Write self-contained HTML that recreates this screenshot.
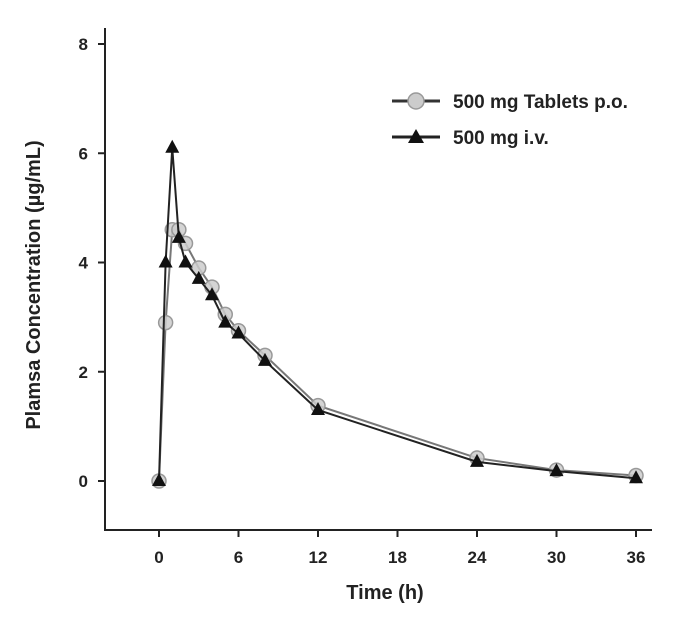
<!DOCTYPE html>
<html><head><meta charset="utf-8"><style>
body{margin:0;background:#fff;font-family:"Liberation Sans",sans-serif}
</style></head><body>
<svg width="692" height="617" font-family="Liberation Sans, sans-serif" font-weight="bold">
<g id="axes"></g><g id="series"></g>
<g>
<line x1="392" y1="101" x2="440" y2="101" stroke="#333" stroke-width="3"/>
<circle cx="416" cy="101" r="8" fill="#ccc" stroke="#999" stroke-width="1.5"/>
<text x="453" y="108" font-size="19" fill="#222">500 mg Tablets p.o.</text>
<line x1="392" y1="137" x2="440" y2="137" stroke="#222" stroke-width="3"/>
<polygon points="416,129 424,143 408,143" fill="#111"/>
<text x="453" y="144" font-size="19" fill="#222">500 mg i.v.</text>
</g>
<text x="385" y="599" text-anchor="middle" font-size="20" fill="#222">Time (h)</text>
<text transform="translate(40,285) rotate(-90)" text-anchor="middle" font-size="20" fill="#222">Plamsa Concentration (µg/mL)</text>
</svg>
<script>
const times=[0,0.5,1,1.5,2,3,4,5,6,8,12,24,30,36];
const poValues=[0,2.9,4.6,4.6,4.35,3.9,3.55,3.05,2.75,2.3,1.38,0.42,0.2,0.1];
const ivValues=[0,4.0,6.1,4.45,4.0,3.7,3.4,2.9,2.7,2.2,1.3,0.35,0.18,0.05];
const xTicks=[0,6,12,18,24,30,36];
const yTicks=[0,2,4,6,8];
const NS="http://www.w3.org/2000/svg";
const xs=v=>159+v*(636-159)/36;
const ys=v=>481-v*(481-44)/8;
function mk(t,a,p){const e=document.createElementNS(NS,t);for(const k in a)e.setAttribute(k,a[k]);p.appendChild(e);return e;}
const ax=document.getElementById('axes');
const yl=mk('line',{x1:105,y1:28,x2:105,y2:531,stroke:'#222','stroke-width':2},ax);


const xl=mk('line',{x1:104,y1:530,x2:652,y2:530,stroke:'#222','stroke-width':2},ax);


xTicks.forEach(v=>{mk('line',{x1:xs(v),y1:530,x2:xs(v),y2:537,stroke:'#222','stroke-width':2},ax);
const t=mk('text',{x:xs(v),y:563,'text-anchor':'middle','font-size':17,fill:'#222'},ax);t.textContent=v;

});
yTicks.forEach(v=>{mk('line',{x1:98,y1:ys(v),x2:105,y2:ys(v),stroke:'#222','stroke-width':2},ax);
const t=mk('text',{x:88,y:ys(v)+6,'text-anchor':'end','font-size':17,fill:'#222'},ax);t.textContent=v;

});
const sg=document.getElementById('series');
const pl1=mk('polyline',{points:times.map((t,i)=>xs(t)+','+ys(poValues[i])).join(' '),fill:'none',stroke:'#777','stroke-width':2},sg);


times.forEach((t,i)=>{const c=mk('circle',{cx:xs(t),cy:ys(poValues[i]),r:7,fill:'#ccc','fill-opacity':0.85,stroke:'#999','stroke-width':1.5},sg);

});
const pl2=mk('polyline',{points:times.map((t,i)=>xs(t)+','+ys(ivValues[i])).join(' '),fill:'none',stroke:'#222','stroke-width':2},sg);


times.forEach((t,i)=>{const x=xs(t),y=ys(ivValues[i]);
const p=mk('polygon',{points:`${x},${y-8} ${x+7},${y+5} ${x-7},${y+5}`,fill:'#111'},sg);

});
</script>
</body></html>
